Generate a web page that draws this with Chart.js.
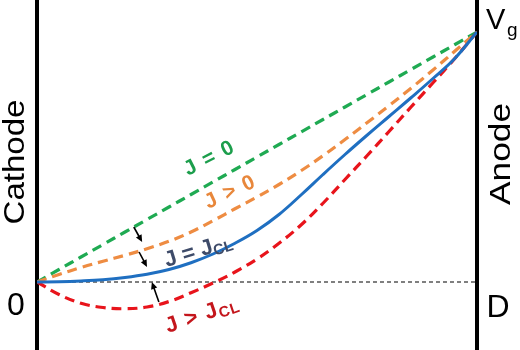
<!DOCTYPE html>
<html>
<head>
<meta charset="utf-8">
<script src="https://cdn.jsdelivr.net/npm/chart.js@4.4.1/dist/chart.umd.min.js"></script>
<style>
html,body{margin:0;padding:0;background:#fff;}
#wrap{width:520px;height:350px;position:relative;}
</style>
</head>
<body>
<div id="wrap"><canvas id="c" width="520" height="350"></canvas></div>
<script>
// Normalised position between cathode (0) and anode (1)
const positions = [0,0.05,0.1,0.15,0.2,0.25,0.3,0.35,0.4,0.45,0.5,0.55,0.6,0.65,0.7,0.75,0.8,0.85,0.9,0.95,1];
// Potential profiles (normalised to Vg)
const vJ0    = [0,0.05,0.1,0.15,0.2,0.25,0.3,0.35,0.4,0.45,0.5,0.55,0.6,0.65,0.7,0.75,0.8,0.85,0.9,0.95,1];
const vJpos  = [0,0.03,0.058,0.083,0.107,0.133,0.163,0.2,0.245,0.293,0.34,0.39,0.445,0.505,0.57,0.637,0.705,0.775,0.848,0.924,1];
const vJCL   = [0,0.001,0.004,0.009,0.018,0.031,0.05,0.077,0.112,0.155,0.206,0.27,0.348,0.43,0.51,0.587,0.662,0.737,0.814,0.895,1];
const vJgtCL = [0,-0.05,-0.085,-0.102,-0.107,-0.1,-0.078,-0.043,-0.004,0.04,0.092,0.155,0.228,0.315,0.41,0.505,0.602,0.7,0.797,0.895,1];
const zeroLine = [0,0];
const zeroX = [0,1];
const curveLabels = ["J = 0","J > 0","J = J","J > J"];
const curveSubs = ["","","CL","CL"];
const axisTexts = {cathode:"Cathode", anode:"Anode", zero:"0", d:"D", v:"V", vsub:"g"};

const pts = (xs, ys) => xs.map((x,i)=>({x, y: ys[i]}));

const overlay = {
  id:'overlay',
  beforeDatasetsDraw(chart){
    const ctx = chart.ctx, xs = chart.scales.x;
    ctx.save();
    ctx.strokeStyle = '#000';
    ctx.lineWidth = 4;
    [0,1].forEach(v=>{
      const px = Math.round(xs.getPixelForValue(v));
      ctx.beginPath(); ctx.moveTo(px,0); ctx.lineTo(px,chart.height); ctx.stroke();
    });
    ctx.restore();
  },
  afterDatasetsDraw(chart){
    const ctx = chart.ctx, xs = chart.scales.x, ys = chart.scales.y;
    const P = (x,y)=>[xs.getPixelForValue(x), ys.getPixelForValue(y)];

    function fitText(text, cx, cy, angle, font, len, color){
      ctx.save();
      ctx.font = font; ctx.fillStyle = color;
      ctx.textAlign='center'; ctx.textBaseline='middle';
      const w = ctx.measureText(text).width;
      ctx.translate(cx, cy); ctx.rotate(angle);
      if (len) ctx.scale(len/w, 1);
      ctx.fillText(text, 0, 0);
      ctx.restore();
    }
    // label drawn from its left baseline point
    function subText(main, sub, bx, by, angle, mainFont, subFont, color, subDrop, spacing){
      ctx.save();
      ctx.fillStyle = color;
      try { ctx.letterSpacing = spacing + 'px'; } catch(e) {}
      ctx.translate(bx, by); ctx.rotate(angle);
      ctx.textBaseline='alphabetic'; ctx.textAlign='left';
      ctx.font = mainFont; const w1 = ctx.measureText(main).width;
      ctx.fillText(main, 0, 0);
      if (sub){ ctx.font = subFont; ctx.fillText(sub, w1, subDrop); }
      ctx.restore();
    }
    function arrow(x1,y1,x2,y2){
      const [a,b] = P(x1,y1), [c,d] = P(x2,y2);
      const ang = Math.atan2(d-b, c-a);
      ctx.save();
      ctx.strokeStyle='#000'; ctx.fillStyle='#000'; ctx.lineWidth=1.6;
      ctx.beginPath(); ctx.moveTo(a,b); ctx.lineTo(c - 4*Math.cos(ang), d - 4*Math.sin(ang)); ctx.stroke();
      ctx.beginPath();
      ctx.moveTo(c,d);
      ctx.lineTo(c - 7*Math.cos(ang) + 3.2*Math.sin(ang), d - 7*Math.sin(ang) - 3.2*Math.cos(ang));
      ctx.lineTo(c - 7*Math.cos(ang) - 3.2*Math.sin(ang), d - 7*Math.sin(ang) + 3.2*Math.cos(ang));
      ctx.closePath(); ctx.fill();
      ctx.restore();
    }

    const deg = Math.PI/180;
    const lf21 = 'bold 21px "Liberation Sans", Arial, sans-serif';
    const lf22 = 'bold 22px "Liberation Sans", Arial, sans-serif';
    const sf = 'bold 15px "Liberation Sans", Arial, sans-serif';
    let p;
    p = P(0.343,0.424);  subText(curveLabels[0], curveSubs[0], p[0], p[1], -27*deg, lf21, sf, '#1c9e4c', 0, 1.5);
    p = P(0.389,0.292);  subText(curveLabels[1], curveSubs[1], p[0], p[1], -25*deg, lf21, sf, '#e8873b', 0, 1.5);
    p = P(0.295,0.06);   subText(curveLabels[2], curveSubs[2], p[0], p[1], -17*deg, lf22, sf, '#3e4b69', 3, 0);
    p = P(0.298,-0.204); subText(curveLabels[3], curveSubs[3], p[0], p[1], -19*deg, lf22, sf, '#c4161c', 3, 1);

    // arrows
    arrow(0.220,0.22,0.239,0.16);
    arrow(0.232,0.12,0.250,0.06);
    arrow(0.277,-0.08,0.261,0.0);

    // axis texts
    const af = '30px "Liberation Sans", Arial, sans-serif';
    fitText(axisTexts.cathode, 16, 162, -Math.PI/2, af, 125, '#000');
    fitText(axisTexts.anode, 502, 154, -Math.PI/2, af, 102, '#000');
    fitText(axisTexts.zero, 16, 306, 0, '32px "Liberation Sans", Arial, sans-serif', 0, '#000');
    fitText(axisTexts.d, 498, 308, 0, '32px "Liberation Sans", Arial, sans-serif', 0, '#000');
    ctx.save();
    ctx.fillStyle='#000'; ctx.textBaseline='alphabetic'; ctx.textAlign='left';
    ctx.font = '29px "Liberation Sans", Arial, sans-serif';
    ctx.fillText(axisTexts.v, 486, 29);
    ctx.font = '19px "Liberation Sans", Arial, sans-serif';
    ctx.fillText(axisTexts.vsub, 507, 36);
    ctx.restore();
  }
};

new Chart(document.getElementById('c'), {
  type:'line',
  data:{
    datasets:[
      {data: pts(zeroX, zeroLine), borderColor:'#000', borderWidth:1.2, borderDash:[4,3], pointRadius:0, order:5, tension:0},
      {data: pts(positions, vJ0), borderColor:'#1faa52', borderWidth:3.2, borderDash:[10,6], pointRadius:0, order:4, tension:0.4},
      {data: pts(positions, vJpos), borderColor:'#ee8c42', borderWidth:3.2, borderDash:[10,6], pointRadius:0, order:3, tension:0.4},
      {data: pts(positions, vJgtCL), borderColor:'#e8141b', borderWidth:3.2, borderDash:[10,6], pointRadius:0, order:2, tension:0.4},
      {data: pts(positions, vJCL), borderColor:'#1f6fc1', borderWidth:3, pointRadius:0, order:1, tension:0.4}
    ]
  },
  options:{
    responsive:false,
    animation:false,
    layout:{padding:{left:37,right:43,top:0,bottom:0}},
    plugins:{legend:{display:false}, tooltip:{enabled:false}},
    scales:{
      x:{type:'linear', min:0, max:1, display:false},
      y:{type:'linear', min:-0.272, max:1.128, display:false}
    }
  },
  plugins:[overlay]
});
</script>
</body>
</html>
